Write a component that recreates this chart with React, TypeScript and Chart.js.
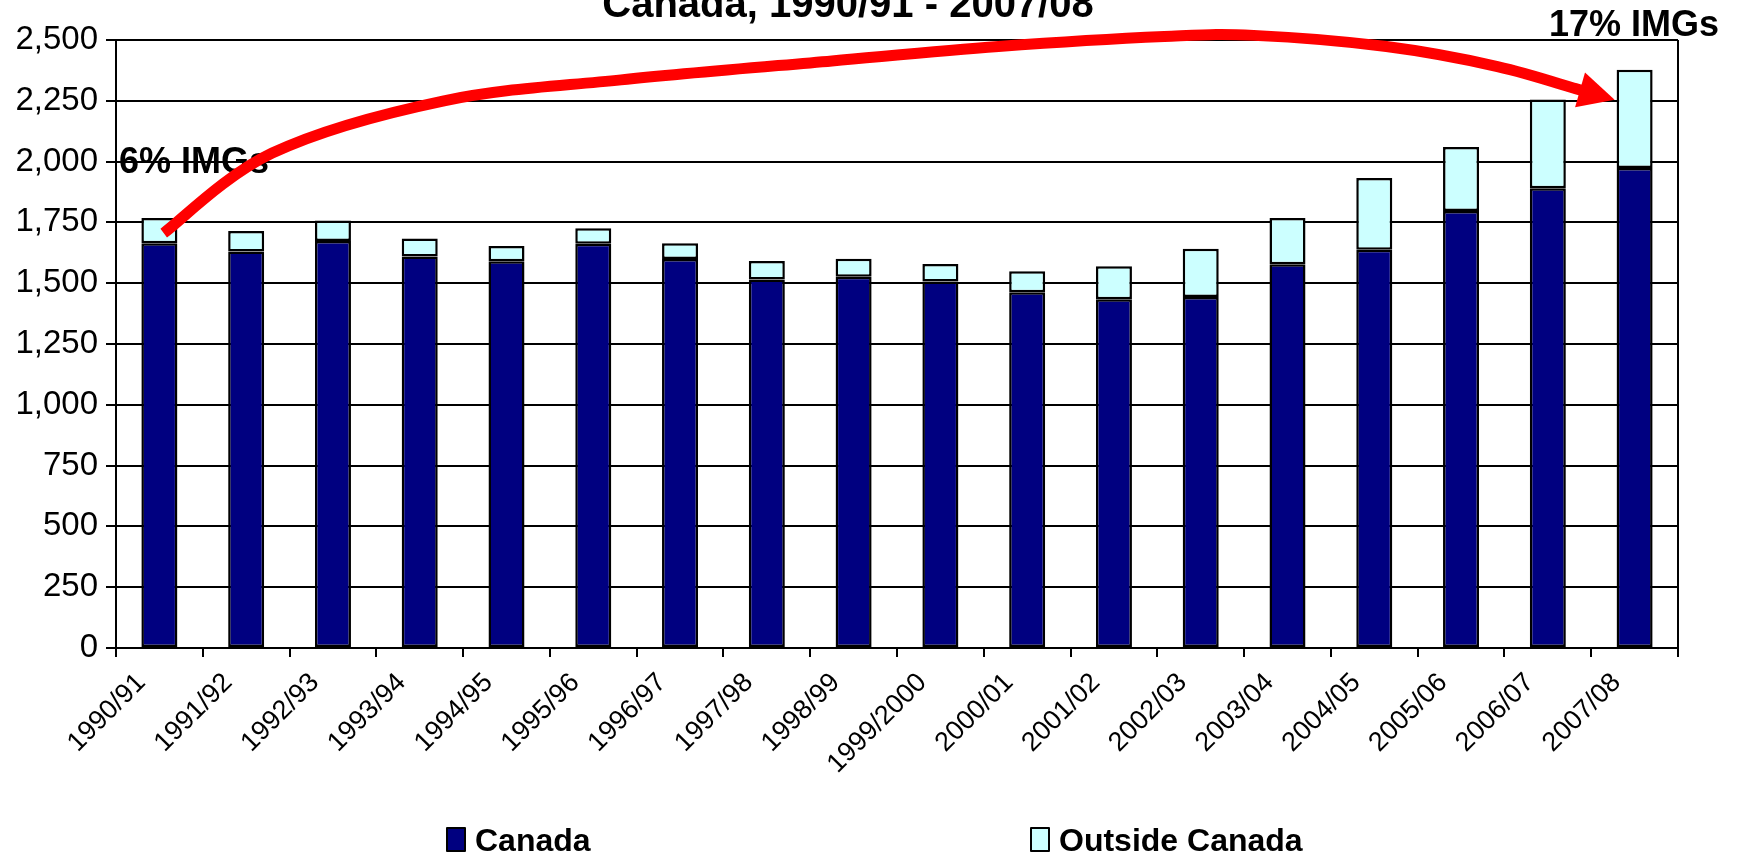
import React, { useEffect, useRef } from 'react';
import { Chart, registerables } from 'chart.js';

Chart.register(...registerables);

const categories = [
  '1990/91', '1991/92', '1992/93', '1993/94', '1994/95', '1995/96',
  '1996/97', '1997/98', '1998/99', '1999/2000', '2000/01', '2001/02',
  '2002/03', '2003/04', '2004/05', '2005/06', '2006/07', '2007/08',
];

const canadaValues = [1664, 1630, 1674, 1610, 1590, 1662, 1600, 1515, 1527, 1507, 1463, 1434, 1443, 1578, 1638, 1797, 1890, 1974];
const outsideValues = [104, 85, 84, 74, 63, 64, 64, 76, 74, 72, 86, 136, 199, 190, 295, 263, 365, 404];

const yTickStep = 250;
const yMin = 0;
const yMax = 2500;

const titleText = 'Canada, 1990/91 - 2007/08';
const startNote = '6% IMGs';
const endNote = '17% IMGs';

// trend arrow path, in (category index, value) data units
const arrowIndex = [0.05, 1.3, 3.28, 5.32, 7.75, 9.67, 11.58, 12.61, 14.14, 15.42, 16.32, 16.77];
const arrowValue = [1706, 2035, 2250, 2336, 2414, 2473, 2514, 2519, 2473, 2391, 2300, 2254];

const FONT = "'Liberation Sans', Arial, Helvetica, sans-serif";

const overlayPlugin = {
  id: 'overlay',
  afterDraw(chart: any) {
    const { ctx, chartArea, scales } = chart;
    const xs = scales.x;
    const ys = scales.y;
    ctx.save();

    // right border of plot
    ctx.strokeStyle = '#000';
    ctx.lineWidth = 2;
    ctx.beginPath();
    ctx.moveTo(chartArea.right, chartArea.top);
    ctx.lineTo(chartArea.right, chartArea.bottom);
    ctx.stroke();

    // title (upper part cut off)
    ctx.fillStyle = '#000';
    ctx.font = `bold 40px ${FONT}`;
    ctx.textAlign = 'center';
    ctx.textBaseline = 'alphabetic';
    ctx.fillText(titleText, 848, 17);

    // notes
    ctx.font = `bold 36px ${FONT}`;
    ctx.textAlign = 'left';
    ctx.fillText(startNote, chartArea.left + 3, 173);
    ctx.textAlign = 'right';
    ctx.fillText(endNote, 1719, 36);

    // arrow
    const pts = arrowIndex.map((ix, i) => ({ x: xs.getPixelForValue(ix), y: ys.getPixelForValue(arrowValue[i]) }));
    const tip = pts[pts.length - 1];
    const prev = pts[pts.length - 2];
    let dx = tip.x - prev.x;
    let dy = tip.y - prev.y;
    const len = Math.hypot(dx, dy);
    dx /= len; dy /= len;
    const headLen = 36;
    const headHalf = 18;
    const base = { x: tip.x - dx * headLen, y: tip.y - dy * headLen };
    const path = pts.slice(0, -1).concat([base]);

    ctx.strokeStyle = '#FF0000';
    ctx.fillStyle = '#FF0000';
    ctx.lineWidth = 11;
    ctx.lineCap = 'butt';
    ctx.lineJoin = 'round';
    ctx.beginPath();
    ctx.moveTo(path[0].x, path[0].y);
    for (let i = 0; i < path.length - 1; i++) {
      const p0 = path[i - 1] || path[i];
      const p1 = path[i];
      const p2 = path[i + 1];
      const p3 = path[i + 2] || p2;
      const c1x = p1.x + (p2.x - p0.x) / 6;
      const c1y = p1.y + (p2.y - p0.y) / 6;
      const c2x = p2.x - (p3.x - p1.x) / 6;
      const c2y = p2.y - (p3.y - p1.y) / 6;
      ctx.bezierCurveTo(c1x, c1y, c2x, c2y, p2.x, p2.y);
    }
    ctx.stroke();
    ctx.beginPath();
    ctx.moveTo(tip.x, tip.y);
    ctx.lineTo(base.x - dy * headHalf, base.y + dx * headHalf);
    ctx.lineTo(base.x + dy * headHalf, base.y - dx * headHalf);
    ctx.closePath();
    ctx.fill();

    // legend
    const legendX = [447, 1031];
    chart.data.datasets.forEach((ds: any, i: number) => {
      const bx = legendX[i];
      ctx.fillStyle = ds.backgroundColor;
      ctx.fillRect(bx, 828, 18, 23);
      ctx.strokeStyle = '#000';
      ctx.lineWidth = 2;
      ctx.strokeRect(bx, 828, 18, 23);
      ctx.fillStyle = '#000';
      ctx.font = `bold 32px ${FONT}`;
      ctx.textAlign = 'left';
      ctx.textBaseline = 'alphabetic';
      ctx.fillText(ds.label, bx + 28, 851);
    });

    ctx.restore();
  },
};

export default function App() {
  const canvasRef = useRef<HTMLCanvasElement | null>(null);

  useEffect(() => {
    document.body.style.margin = '0';
    const canvas = canvasRef.current;
    if (!canvas) return;
    Chart.defaults.font.family = FONT;
    const chart = new Chart(canvas, {
      type: 'bar',
      data: {
        labels: categories,
        datasets: [
          {
            label: 'Canada',
            data: canadaValues,
            backgroundColor: '#000080',
            borderColor: '#000000',
            borderWidth: 2.5,
            borderSkipped: false,
          },
          {
            label: 'Outside Canada',
            data: outsideValues,
            backgroundColor: '#CCFFFF',
            borderColor: '#000000',
            borderWidth: 2.5,
            borderSkipped: false,
          },
        ],
      },
      options: {
        responsive: false,
        animation: false,
        devicePixelRatio: 1,
        layout: { padding: { top: 40, left: 0, right: 61, bottom: 0 } },
        datasets: { bar: { categoryPercentage: 1, barPercentage: 0.415 } },
        plugins: {
          legend: { display: false },
          title: { display: false },
          tooltip: { enabled: false },
        },
        scales: {
          x: {
            stacked: true,
            offset: true,
            grid: {
              offset: true,
              drawOnChartArea: false,
              drawTicks: true,
              tickLength: 9,
              color: '#000',
              lineWidth: 2,
            },
            border: { display: true, color: '#000', width: 2 },
            ticks: {
              autoSkip: false,
              maxRotation: 45,
              minRotation: 45,
              padding: 10,
              labelOffset: -18,
              color: '#000',
              font: { size: 27 },
            },
            afterFit(scale: any) {
              scale.height = 206;
            },
          },
          y: {
            stacked: true,
            min: yMin,
            max: yMax,
            grid: { color: '#000', lineWidth: 2, tickLength: 10, drawTicks: true },
            border: { display: true, color: '#000', width: 2 },
            ticks: {
              stepSize: yTickStep,
              padding: 8,
              color: '#000',
              font: { size: 33 },
              callback: (v: any) => Number(v).toLocaleString('en-US'),
            },
            afterFit(scale: any) {
              scale.width = 116;
            },
          },
        },
      },
      plugins: [overlayPlugin],
    });
    return () => chart.destroy();
  }, []);

  return (
    <div style={{ width: 1739, height: 854 }}>
      <canvas ref={canvasRef} width={1739} height={854} style={{ display: 'block' }} />
    </div>
  );
}
